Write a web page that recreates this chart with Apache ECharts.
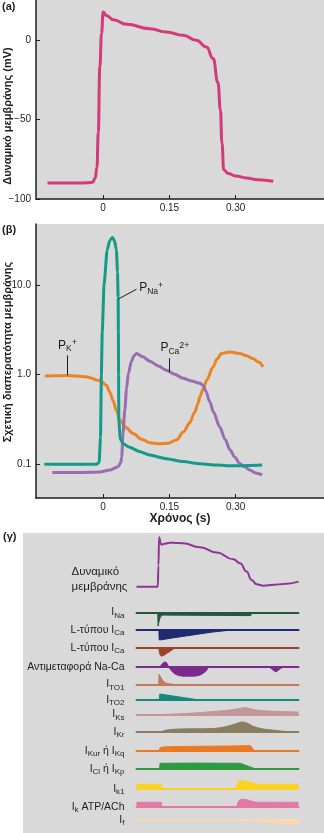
<!DOCTYPE html>
<html>
<head>
<meta charset="utf-8">
<script src="https://cdn.jsdelivr.net/npm/echarts@6/dist/echarts.min.js"></script>
<style>
html,body{margin:0;padding:0;background:#fff;}
#chart{width:324px;height:833px;}
</style>
</head>
<body>
<div id="chart"></div>
<script>
const FONT = '"Liberation Sans", Arial, Helvetica, sans-serif';
const BG = '#d9d9d9';
const INK = '#1e1e1e';

// ---- (a) ventricular action potential: time (s), membrane potential (mV)
const apTime = [-0.126, -0.06, -0.035, -0.024, -0.018, -0.014, -0.011, -0.0075, -0.0036, 0.0,
  0.0075, 0.023, 0.053, 0.106, 0.143, 0.181, 0.211, 0.234, 0.249, 0.26, 0.2655, 0.269, 0.273,
  0.283, 0.3, 0.324, 0.35, 0.385];
const apVoltage = [-90, -90, -89.8, -89.5, -87, -80, -58, -17, 4, 17.4,
  15.3, 12.6, 9.7, 7, 4.9, 2.8, -0.3, -4.5, -11.8, -27, -44, -65, -81.6,
  -84, -85.5, -86.8, -87.9, -88.9];
const apTicksX = [0, 0.15, 0.30];
const apTicksY = [-100, -50, 0];

// ---- (b) relative membrane permeabilities (log scale)
const naTime = [-0.133, -0.06, -0.015, -0.009, -0.006, -0.004, -0.002, 0.002, 0.009, 0.015, 0.021,
  0.026, 0.030, 0.0325, 0.034, 0.0345, 0.035, 0.0355, 0.039, 0.045, 0.06, 0.08, 0.106, 0.14, 0.181,
  0.22, 0.257, 0.294, 0.33, 0.36];
const naPerm = [0.1, 0.1, 0.1, 0.105, 0.2, 1.0, 3.0, 10, 24.5, 31.5, 34,
  31, 24.5, 14, 7.2, 3, 1, 0.3, 0.19, 0.17, 0.155, 0.14, 0.127, 0.116, 0.107,
  0.101, 0.098, 0.096, 0.097, 0.098];
const kTime = [-0.132, -0.083, -0.04, -0.0075, 0.0077, 0.015, 0.0226, 0.03, 0.038, 0.05, 0.068, 0.087,
  0.106, 0.128, 0.148, 0.166, 0.182, 0.196, 0.207, 0.215, 0.219, 0.227, 0.234, 0.249, 0.258, 0.268,
  0.287, 0.309, 0.325, 0.339, 0.352, 0.362];
const kPerm = [0.965, 0.98, 0.95, 0.86, 0.76, 0.64, 0.51, 0.4, 0.31, 0.26, 0.22, 0.19,
  0.174, 0.169, 0.172, 0.187, 0.23, 0.29, 0.38, 0.48, 0.57, 0.7, 0.86, 1.22, 1.5, 1.72,
  1.79, 1.72, 1.62, 1.51, 1.38, 1.22];
const caTime = [-0.115, -0.05, -0.0075, 0.015, 0.034, 0.04, 0.042, 0.045, 0.049, 0.053, 0.057, 0.064,
  0.07, 0.0755, 0.09, 0.106, 0.125, 0.143, 0.162, 0.181, 0.2, 0.219, 0.226, 0.233, 0.241, 0.25,
  0.264, 0.276, 0.287, 0.298, 0.309, 0.32, 0.332, 0.345, 0.36];
const caPerm = [0.081, 0.081, 0.082, 0.086, 0.094, 0.105, 0.12, 0.22, 0.4, 0.7, 1.02, 1.41,
  1.62, 1.72, 1.58, 1.41, 1.25, 1.12, 1.01, 0.91, 0.85, 0.80, 0.76, 0.65, 0.5, 0.38,
  0.26, 0.19, 0.145, 0.12, 0.102, 0.094, 0.086, 0.08, 0.076];
const permTicks = [0.1, 1, 10];

// ---- (c) membrane potential and ionic currents, time (s)
const vmTime = [-0.067, -0.004, -0.002, 0.0, 0.002, 0.004, 0.007, 0.015, 0.032, 0.05, 0.071, 0.121,
  0.171, 0.22, 0.24, 0.259, 0.274, 0.289, 0.309, 0.34, 0.369, 0.413];
const vmValue = [-85, -85, -40, 20, 17, 8, 4, 6, 8.5, 8, 7.2, -1.3,
  -12.7, -26.8, -35.3, -53, -70.8, -80, -82.9, -81, -79.3, -74.4];

// current amplitudes relative to each trace's zero line (arbitrary units)
const curNa = [[-0.004, 0], [-0.003, -13.4], [-0.001, -10], [0.003, -5], [0.008, -2.5], [0.012, -2], [0.272, -3], [0.2725, 0]];
const curCaL = [[-0.0005, 0], [0.001, -9.8], [0.05, -7.2], [0.111, -4.2], [0.16, -1.8], [0.21, 0]];
const curCaL2 = [[-0.001, 0], [0.002, -6], [0.007, -8], [0.014, -7.2], [0.024, -5], [0.035, -2.6], [0.047, 0]];
const curNaCa = [[0.003, 0], [0.008, 2.5], [0.014, 4.3], [0.019, 4.6], [0.024, 3], [0.028, 0], [0.034, -3],
  [0.042, -6], [0.055, -8.5], [0.075, -9.5], [0.1, -9.5], [0.12, -8.5], [0.133, -6], [0.142, -3], [0.147, 0],
  [0.324, 0], [0.336, -3], [0.346, -5], [0.357, -2.5], [0.369, 0]];
const curTo1 = [[-0.001, 0], [0.0, 10.3], [0.003, 8], [0.007, 6], [0.012, 3.3], [0.022, 1], [0.037, 0.2], [0.045, 0]];
const curTo2 = [[0.001, 0], [0.002, 6.2], [0.123, 0]];
const curKs = [[0.02, 0], [0.062, 0.5], [0.11, 1.5], [0.16, 2.7], [0.21, 4.3], [0.24, 6], [0.255, 6.7],
  [0.27, 5.5], [0.289, 4.2], [0.339, 3], [0.413, 2.3]];
const curKr = [[0.006, 0], [0.012, 1], [0.027, 2.2], [0.062, 3], [0.16, 3.5], [0.2, 5.5], [0.23, 8.5],
  [0.245, 10], [0.26, 9], [0.28, 5.5], [0.309, 3], [0.349, 1.5], [0.39, 0]];
const curKur = [[0.001, 0], [0.003, 3.2], [0.03, 4.1], [0.2, 4.8], [0.27, 5.1], [0.275, 3.5], [0.281, 0]];
const curClKp = [[0.001, 0], [0.003, 5.9], [0.1, 6.1], [0.24, 5.9], [0.288, 0]];
const curK1 = [[-0.067, 4.4], [0.007, 4.4], [0.0075, 0], [0.225, 0], [0.232, 5.5], [0.24, 8], [0.255, 7.5],
  [0.27, 6.5], [0.285, 4.8], [0.295, 4.4], [0.413, 4.4]];
const curKAtp = [[-0.067, 4.5], [0.007, 4.5], [0.0075, 0], [0.228, 0], [0.235, 5.5], [0.245, 7.5], [0.26, 7],
  [0.275, 5.5], [0.29, 4.5], [0.413, 4.5]];
const curF = [[0.25, 0], [0.31, -2.3], [0.413, -5]];

const currentRows = [
  { label: '{m|I}{s|Na}', color: '#22573f', data: curNa, y: 612.6, smooth: false },
  { label: '{m|L-τύπου I}{s|Ca}', color: '#1f2a70', data: curCaL, y: 630.2, smooth: 0.3 },
  { label: '{m|L-τύπου I}{s|Ca}', color: '#9b4428', data: curCaL2, y: 648.1, smooth: 0.3 },
  { label: '{m|Αντιμεταφορά Na-Ca}', color: '#7b2b8e', data: curNaCa, y: 666.7, smooth: 0.3 },
  { label: '{m|I}{s|TO1}', color: '#c27a5c', data: curTo1, y: 684.3, smooth: 0.3 },
  { label: '{m|I}{s|TO2}', color: '#128a7c', data: curTo2, y: 700.2, smooth: false },
  { label: '{m|I}{s|Ks}', color: '#c39797', data: curKs, y: 714.3, smooth: 0.3 },
  { label: '{m|I}{s|Kr}', color: '#8b7d62', data: curKr, y: 732.0, smooth: 0.3 },
  { label: '{m|I}{s|Kur}{m| ή I}{s|Kq}', color: '#ea7a22', data: curKur, y: 750.8, smooth: 0.2 },
  { label: '{m|I}{s|Cl}{m| ή I}{s|Kp}', color: '#2e9b3f', data: curClKp, y: 769.2, smooth: false },
  { label: '{m|I}{s|k1}', color: '#fad321', data: curK1, y: 788.7, smooth: 0.2 },
  { label: '{m|I}{s|k}{m| ATP/ACh}', color: '#e278a5', data: curKAtp, y: 806.8, smooth: 0.2 },
  { label: '{m|I}{s|f}', color: '#f9d9ad', data: curF, y: 822.0, smooth: false }
];

const zip = (xs, ys) => xs.map((x, i) => [x, ys[i]]);

const grid = [], xAxis = [], yAxis = [], series = [];

const tickLabel = { fontFamily: FONT, fontSize: 10, color: INK };
const axisInk = { onZero: false, lineStyle: { color: INK, width: 1.5 } };

// (a)
grid.push({ left: 36, top: 0, width: 288, height: 199, show: true, backgroundColor: BG, borderWidth: 0 });
xAxis.push({
  type: 'value', gridIndex: 0, min: -0.152, max: 0.5,
  axisLine: axisInk,
  axisTick: { inside: true, length: 4, customValues: apTicksX, lineStyle: { color: INK } },
  axisLabel: Object.assign({ customValues: apTicksX, margin: 4, formatter: v => v === 0 ? '0' : v.toFixed(2) }, tickLabel),
  splitLine: { show: false }
});
yAxis.push({
  type: 'value', gridIndex: 0, min: -100, max: 25,
  axisLine: Object.assign({ show: true }, axisInk),
  axisTick: { show: true, inside: true, length: 4, customValues: apTicksY, lineStyle: { color: INK } },
  axisLabel: Object.assign({ customValues: apTicksY, margin: 5, formatter: v => v < 0 ? '\u2212' + (-v) : String(v) }, tickLabel),
  splitLine: { show: false }
});
series.push({
  type: 'line', xAxisIndex: 0, yAxisIndex: 0, data: zip(apTime, apVoltage),
  showSymbol: false, smooth: 0.5, smoothMonotone: 'x',
  lineStyle: { color: '#d6397a', width: 3 }
});

// (b)
grid.push({ left: 36, top: 224, width: 288, height: 274, show: true, backgroundColor: BG, borderWidth: 0 });
xAxis.push({
  type: 'value', gridIndex: 1, min: -0.152, max: 0.5,
  name: 'Χρόνος (s)', nameLocation: 'middle', nameGap: 14,
  nameTextStyle: { fontFamily: FONT, fontSize: 12, fontWeight: 'bold', color: INK },
  axisLine: axisInk,
  axisTick: { inside: true, length: 4, customValues: apTicksX, lineStyle: { color: INK } },
  axisLabel: Object.assign({ customValues: apTicksX, margin: 4, formatter: v => v === 0 ? '0' : v.toFixed(2) }, tickLabel),
  splitLine: { show: false }
});
yAxis.push({
  type: 'log', logBase: 10, gridIndex: 1, min: 0.042, max: 48,
  axisLine: Object.assign({ show: true }, axisInk),
  axisTick: { show: true, inside: true, length: 4, customValues: permTicks, lineStyle: { color: INK } },
  axisLabel: Object.assign({ customValues: permTicks, margin: 5, formatter: v => Number(v).toFixed(1) }, tickLabel),
  splitLine: { show: false }
});

const leader = { color: INK, width: 1, type: 'solid' };
const annoRich = {
  m: { fontFamily: FONT, fontSize: 12, color: INK },
  s: { fontFamily: FONT, fontSize: 8.5, color: INK, padding: [7, 0, 0, 0] },
  p: { fontFamily: FONT, fontSize: 9, color: INK, padding: [0, 0, 5, 0] }
};
series.push({
  type: 'line', xAxisIndex: 1, yAxisIndex: 1, data: zip(kTime, kPerm),
  showSymbol: false, smooth: 0.3, smoothMonotone: 'x', z: 3,
  lineStyle: { color: '#ea8424', width: 3 },
  markLine: {
    silent: true, symbol: 'none', lineStyle: leader,
    label: { show: true, position: 'start', distance: 2, formatter: '{m|P}{s|K}{p|+}', rich: annoRich },
    data: [[{ coord: [-0.0806, 1.64] }, { coord: [-0.0806, 0.985] }]]
  }
});
series.push({
  type: 'line', xAxisIndex: 1, yAxisIndex: 1, data: zip(caTime, caPerm),
  showSymbol: false, smooth: 0.3, smoothMonotone: 'x', z: 3,
  lineStyle: { color: '#9a6cb2', width: 3 },
  markLine: {
    silent: true, symbol: 'none', lineStyle: leader,
    label: { show: true, position: 'start', distance: 2, offset: [6, 0], formatter: '{m|P}{s|Ca}{p|2+}', rich: annoRich },
    data: [[{ coord: [0.149, 1.53] }, { coord: [0.149, 1.07] }]]
  }
});
series.push({
  type: 'line', xAxisIndex: 1, yAxisIndex: 1, data: zip(naTime, naPerm),
  showSymbol: false, smooth: 0.2, smoothMonotone: 'x', z: 4,
  lineStyle: { color: '#139a88', width: 3 },
  markLine: {
    silent: true, symbol: 'none', lineStyle: leader,
    label: { show: true, position: 'end', distance: 3, formatter: '{m|P}{s|Na}{p|+}', rich: annoRich },
    data: [[{ coord: [0.035, 7.0] }, { coord: [0.0756, 9.0] }]]
  }
});

// (c) membrane potential trace
const C_LEFT = 136.5, C_RIGHT = 25.5, C_MIN = -0.067, C_MAX = 0.413;
grid.push({ left: C_LEFT, right: C_RIGHT, top: 533, height: 56 });
xAxis.push({ type: 'value', gridIndex: 2, min: C_MIN, max: C_MAX, show: false });
yAxis.push({ type: 'value', gridIndex: 2, min: -90, max: 29, show: false });
series.push({
  type: 'line', xAxisIndex: 2, yAxisIndex: 2, data: zip(vmTime, vmValue),
  showSymbol: false, smooth: 0.5, smoothMonotone: 'x',
  lineStyle: { color: '#8e3595', width: 2 }
});

// (c) current traces, one small grid each
const rowRich = {
  m: { fontFamily: FONT, fontSize: 10.5, color: INK },
  s: { fontFamily: FONT, fontSize: 8, color: INK, padding: [6, 0, 0, 0] }
};
currentRows.forEach((row, i) => {
  const g = 3 + i;
  grid.push({ left: C_LEFT, right: C_RIGHT, top: row.y - 15, height: 30 });
  xAxis.push({
    type: 'value', gridIndex: g, min: C_MIN, max: C_MAX,
    axisLine: { show: true, onZero: true, lineStyle: { color: row.color, width: 2 } },
    axisTick: { show: false }, axisLabel: { show: false }, splitLine: { show: false }
  });
  yAxis.push({
    type: 'value', gridIndex: g, min: -15, max: 15,
    name: row.label, nameLocation: 'middle', nameRotate: 0, nameGap: 12,
    nameTextStyle: { align: 'right', verticalAlign: 'middle', rich: rowRich },
    axisLine: { show: false }, axisTick: { show: false }, axisLabel: { show: false }, splitLine: { show: false }
  });
  series.push({
    type: 'line', xAxisIndex: g, yAxisIndex: g, data: row.data,
    showSymbol: false, smooth: row.smooth,
    lineStyle: { color: row.color, width: 1 },
    areaStyle: { color: row.color, opacity: 1 }
  });
});

const boldText = (text, x, y, rot) => ({
  type: 'text', x, y, rotation: rot || 0, z: 10,
  style: { text, fill: INK, font: 'bold 11px ' + FONT, align: rot ? 'center' : 'left', verticalAlign: 'middle' }
});

const option = {
  animation: false,
  backgroundColor: '#fff',
  grid, xAxis, yAxis, series,
  graphic: [
    { type: 'rect', z: -10, shape: { x: 23, y: 533, width: 301, height: 300 }, style: { fill: BG } },
    boldText('(a)', 2, 7),
    boldText('(β)', 2, 230),
    boldText('(γ)', 3, 537),
    boldText('Δυναμικό μεμβράνης (mV)', 8, 116, Math.PI / 2),
    boldText('Σχετική διαπερατότητα μεμβράνης', 8, 352, Math.PI / 2),
    {
      type: 'text', x: 71.5, y: 579, z: 10,
      style: { text: 'Δυναμικό\nμεμβράνης', fill: INK, font: '11.5px ' + FONT, lineHeight: 15, align: 'left', verticalAlign: 'middle' }
    }
  ]
};

const chart = echarts.init(document.getElementById('chart'), null, { renderer: 'canvas' });
chart.setOption(option);
</script>
</body>
</html>
